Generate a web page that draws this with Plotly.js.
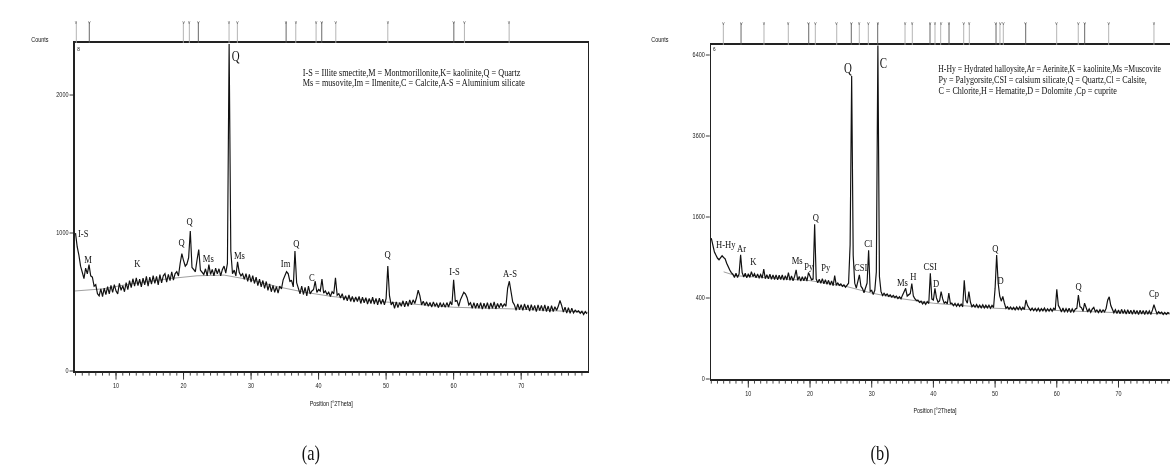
<!DOCTYPE html>
<html><head><meta charset="utf-8">
<script src="https://cdn.plot.ly/plotly-3.0.1.min.js"></script>
<style>
html,body{margin:0;padding:0;background:#fff;overflow:hidden;width:1170px;height:474px}
#chart{width:1500px;height:474px;transform:scaleX(0.78);transform-origin:0 0;filter:grayscale(1)}
</style></head><body><div id="chart"></div>
<script>
// ---------- DATA ----------
// Panel (a): counts on a 2-theta grid (start/step)
const startA = 4.0, stepA = 0.25;
const countsA = [
1000,900,840,760,715,670,745,705,770,690,680,615,625,560,545,595,540,600,555,610,
560,620,570,625,580,560,635,585,618,575,640,590,655,605,668,615,675,620,665,610,
672,625,685,615,680,630,690,635,685,625,698,640,690,705,645,700,655,718,660,705,
720,690,780,850,800,760,775,820,1015,750,735,720,805,880,730,715,700,740,690,770,
700,735,690,745,705,740,690,735,760,710,780,2370,870,705,730,690,790,715,690,705,
665,705,650,700,645,690,635,680,620,665,610,655,600,648,585,630,575,620,570,610,
565,615,595,660,690,720,705,650,655,610,870,640,600,560,615,555,605,545,615,560,
580,590,650,570,590,580,665,565,580,555,570,540,575,560,675,550,560,530,560,515,
545,510,550,505,540,500,535,505,540,490,535,495,530,485,525,490,535,485,525,480,
528,485,520,480,525,760,545,480,500,455,500,460,495,470,508,465,505,470,515,480,
515,490,530,585,545,480,505,475,500,470,495,465,500,470,490,460,495,465,490,462,
495,465,500,480,660,505,510,470,515,540,570,558,530,480,495,455,495,455,490,455,
495,450,490,455,495,450,492,455,500,450,488,460,490,465,485,470,600,650,580,500,
480,440,485,445,480,440,485,445,478,435,480,440,475,432,478,438,475,435,478,432,
470,428,472,432,465,440,470,510,475,428,462,420,458,418,455,422,440,428,435,418,
432,410,430,415];
const bgA_x = [3.9,5,8,12,18,22,26,30,34,38,42,50,60,70,79.9];
const bgA_y = [580,585,595,630,670,690,695,660,610,570,540,500,462,448,425];

// Panel (b): counts on a 2-theta grid (start/step); drawn on a square-root count scale
const startB = 4.0, stepB = 0.25;
const countsB = [
1210,1090,985,935,890,868,905,925,900,878,815,760,722,688,668,630,680,630,672,940,
690,635,680,625,675,630,700,640,675,625,670,625,665,620,735,615,662,615,668,608,
660,605,660,600,655,605,658,598,650,600,690,595,645,590,640,725,595,640,585,635,
590,638,585,690,640,600,610,1460,610,565,605,560,612,555,600,548,592,540,585,532,
650,540,560,535,550,525,540,515,535,560,1100,5600,930,560,505,575,660,525,500,455,
510,560,1010,470,478,435,480,700,6780,640,470,425,448,425,440,418,430,410,425,405,
418,395,412,392,430,470,500,420,430,445,555,420,392,375,378,358,368,345,362,340,
365,348,680,390,382,500,400,360,372,465,392,350,362,345,450,348,350,328,348,322,
345,322,342,318,595,380,352,465,360,318,335,315,338,312,332,310,336,308,332,310,
332,305,330,312,500,935,560,420,370,415,352,305,318,298,315,296,312,292,316,295,
318,292,312,295,380,330,308,288,306,285,304,282,305,280,302,284,306,278,300,282,
302,280,305,292,490,330,305,275,306,272,302,276,305,270,300,275,298,305,430,320,
310,280,350,305,275,300,272,298,312,275,290,270,292,272,290,275,305,380,410,330,
298,268,292,262,290,260,295,262,288,258,292,260,288,256,290,258,285,254,288,258,
285,255,286,256,282,254,290,335,295,258,275,262,272,255,270,256,268,262];
const bgB_x = [6,8,12,20,26,30,34,40,50,60,70,78.4];
const bgB_y = [700,650,630,590,520,450,400,350,305,285,268,258];

// y ticks
const ticksA = [0,1000,2000];
const ticksB = [0,400,1600,3600,6400];
const xTicks = [10,20,30,40,50,60,70];

// reference pattern stick positions (2-theta)
const sticksA = [4.12,6.04,19.97,20.86,22.19,26.74,27.97,35.19,36.62,39.63,40.47,42.55,50.25,60.03,61.6,68.22];
const sticksB = [5.95,8.82,12.54,16.48,19.79,20.86,24.33,26.69,27.99,29.45,30.97,35.4,36.58,39.45,40.26,41.18,42.53,44.91,45.82,50.15,50.79,51.33,54.96,59.98,63.48,64.52,68.41,75.75];

// peak labels
const labA_t = ['I-S','M','K','Q','Q','Ms','Q','Ms','Im','Q','C','Q','I-S','A-S'];
const labA_x = [5.1,5.9,13.2,19.7,20.9,23.7,27.7,28.3,35.2,36.7,39.0,50.25,60.1,68.4];
const labA_y = [1002,809,780,937,1089,817,2278,840,780,930,683,848,727,712];
const labB_t = ['H-Hy','Ar','K','Ms','Py','Q','Py','Q','CSI','Cl','C','Ms','H','CSI','D','Q','D','Q','Cp'];
const labB_x = [6.4,8.9,10.8,17.9,19.8,20.9,22.6,26.1,28.2,29.45,31.9,35.0,36.7,39.45,40.4,50.0,50.9,63.6,75.75];
const labB_y = [1110,1041,853,863,778,1606,760,5885,760,1122,6073,577,651,778,565,1041,597,527,454];

const legendA = ['I-S = Illite smectite,M = Montmorillonite,K= kaolinite,Q = Quartz',
                 'Ms = musovite,Im = Ilmenite,C = Calcite,A-S = Aluminium silicate'];
const legendB = ['H-Hy = Hydrated halloysite,Ar = Aerinite,K = kaolinite,Ms =Muscovite',
                 'Py = Palygorsite,CSI = calsium silicate,Q = Quartz,Cl = Calsite,',
                 'C = Chlorite,H = Hematite,D = Dolomite ,Cp = cuprite'];

// ---------- LAYOUT HELPERS (target pixel -> paper) ----------
const SX = 0.78, W = 1170/SX, H = 474;
const fx = px => px/1170;
const fy = py => 1 - py/H;

const thA = countsA.map((v,i) => startA + i*stepA);
const thB = countsB.map((v,i) => startB + i*stepB);

const serif = 'Liberation Serif, Times New Roman, serif';
const sans = 'Liberation Sans, Arial, sans-serif';

const traces = [
  {x: bgA_x, y: bgA_y, xaxis:'x', yaxis:'y', mode:'lines', line:{color:'#666', width:0.7}, hoverinfo:'skip'},
  {x: thA, y: countsA, xaxis:'x', yaxis:'y', mode:'lines', line:{color:'#111', width:1.5}},
  {x: bgB_x, y: bgB_y.map(Math.sqrt), xaxis:'x2', yaxis:'y2', mode:'lines', line:{color:'#666', width:0.7}, hoverinfo:'skip'},
  {x: thB, y: countsB.map(Math.sqrt), xaxis:'x2', yaxis:'y2', mode:'lines', line:{color:'#111', width:1.5}}
];

const xaxBase = {
  showgrid:false, zeroline:false, showline:true, linecolor:'#222', linewidth:1.6, mirror:true,
  ticks:'outside', ticklen:7, tickwidth:1, tickcolor:'#222', tickvals:xTicks,
  tickfont:{family:sans, size:7, color:'#222'},
  minor:{dtick:1, ticks:'outside', ticklen:3, tickwidth:1, tickcolor:'#333'}
};

const layout = {
  width: W, height: H, margin:{l:0,r:0,t:0,b:0}, showlegend:false,
  paper_bgcolor:'#fff', plot_bgcolor:'#fff',
  xaxis: Object.assign({}, xaxBase, {domain:[fx(74.7), fx(588)], range:[3.88,79.9], anchor:'y'}),
  yaxis: {domain:[fy(371), fy(43)], range:[0,2377], anchor:'x', showgrid:false, zeroline:false,
          showline:true, linecolor:'#222', linewidth:1.6, mirror:true,
          ticks:'outside', ticklen:5, tickwidth:1, tickcolor:'#222', tickvals:ticksA,
          tickfont:{family:sans, size:7, color:'#222'}},
  xaxis2: Object.assign({}, xaxBase, {domain:[fx(711), 1], range:[3.95,78.35], anchor:'y2'}),
  yaxis2: {domain:[fy(379), fy(45)], range:[0,82.47], anchor:'x2', showgrid:false, zeroline:false,
          showline:true, linecolor:'#222', linewidth:1.6, mirror:false,
          ticks:'outside', ticklen:5, tickwidth:1, tickcolor:'#222',
          tickvals:ticksB.map(Math.sqrt), ticktext:ticksB.map(String),
          tickfont:{family:sans, size:7, color:'#222'}},
  shapes: [], annotations: []
};

// stick lines above the frames
sticksA.forEach((s,i) => {
  layout.shapes.push({type:'line', xref:'x', yref:'paper', x0:s, x1:s, y0:fy(43), y1:fy(22),
    line:{color: i%3===1 ? '#555' : '#aaa', width:1}});
  layout.annotations.push({xref:'x', yref:'paper', x:s, y:fy(17), text:'v', showarrow:false,
    font:{family:sans, size:6, color:'#666'}});
});
sticksB.forEach((s,i) => {
  layout.shapes.push({type:'line', xref:'x2', yref:'paper', x0:s, x1:s, y0:fy(45), y1:fy(23),
    line:{color: i%3===1 ? '#555' : '#aaa', width:1}});
  layout.annotations.push({xref:'x2', yref:'paper', x:s, y:fy(18), text:'v', showarrow:false,
    font:{family:sans, size:6, color:'#666'}});
});

// peak labels
labA_t.forEach((t,i) => {
  const big = (t==='Q' && labA_y[i] > 2000);
  layout.annotations.push({xref:'x', yref:'y', x:labA_x[i], y:labA_y[i], text:t, showarrow:false,
    font:{family:serif, size: big ? 14 : 11, color:'#111'}});
});
labB_t.forEach((t,i) => {
  const big = labB_y[i] > 5000;
  layout.annotations.push({xref:'x2', yref:'y2', x:labB_x[i], y:Math.sqrt(labB_y[i]), text:t, showarrow:false,
    font:{family:serif, size: big ? 14 : 11, color:'#111'}});
});

// legend texts
legendA.forEach((t,i) => layout.annotations.push({xref:'paper', yref:'paper', x:fx(301), y:fy(72 + i*10.5),
  xanchor:'left', yanchor:'middle', text:t, showarrow:false, font:{family:serif, size:10.5, color:'#111'}}));
legendB.forEach((t,i) => layout.annotations.push({xref:'paper', yref:'paper', x:fx(937), y:fy(68 + i*11.3),
  xanchor:'left', yanchor:'middle', text:t, showarrow:false,
  font:{family:serif, size: i===0 ? 9.9 : 10.4, color:'#111'}}));

// other texts
const misc = [
  {x:fx(40), y:fy(40), text:'Counts', size:7, fam:sans},
  {x:fx(660), y:fy(40), text:'Counts', size:7, fam:sans},
  {x:fx(78.5), y:fy(49), text:'8', size:6, fam:sans},
  {x:fx(714.5), y:fy(49), text:'6', size:6, fam:sans},
  {x:fx(331), y:fy(404), text:'Position [°2Theta]', size:7, fam:sans},
  {x:fx(935), y:fy(411), text:'Position [°2Theta]', size:7, fam:sans},
  {x:fx(311), y:fy(453), text:'(a)', size:21, fam:serif},
  {x:fx(880), y:fy(453), text:'(b)', size:21, fam:serif}
];
misc.forEach(m => layout.annotations.push({xref:'paper', yref:'paper', x:m.x, y:m.y, text:m.text,
  showarrow:false, xanchor:'center', yanchor:'middle', font:{family:m.fam, size:m.size, color:'#111'}}));

Plotly.newPlot('chart', traces, layout, {staticPlot:true, displayModeBar:false, responsive:false});
</script></body></html>
